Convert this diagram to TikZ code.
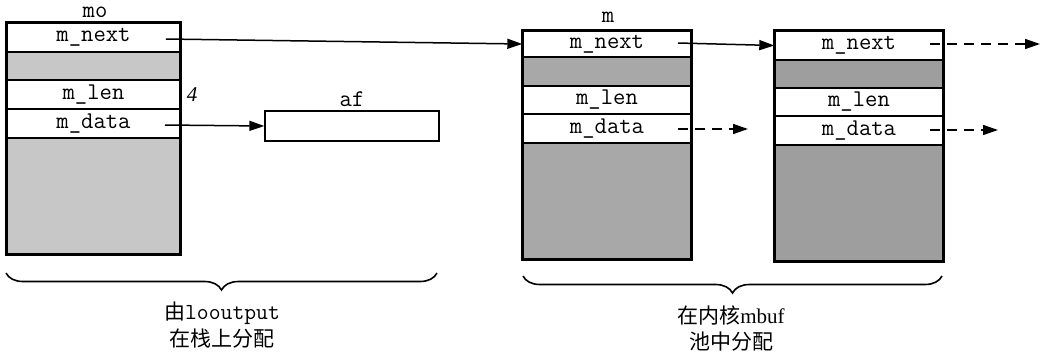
\documentclass[tikz,border=0pt]{standalone}
\usepackage{fontspec}
\setmainfont{Liberation Serif}
\newfontfamily\cjk{Noto Sans CJK SC}
\usetikzlibrary{arrows.meta,decorations.pathreplacing,calc}
\tikzset{
  cell/.style={draw, line width=1.4pt, inner sep=0pt, font=\ttfamily\fontsize{24}{26}\selectfont},
  mocell/.style={cell, minimum width=173pt},
  mcell/.style={cell, minimum width=168pt},
  shadeA/.style={fill=black!22},
  shadeB/.style={fill=black!34},
  shadeC/.style={fill=black!38},
  frame/.style={line width=2.2pt},
  arr/.style={line width=1.5pt, -{Triangle[length=15pt,width=10pt]}},
  darr/.style={arr, dash pattern=on 10pt off 7pt},
  lbl/.style={font=\ttfamily\fontsize{24}{26}\selectfont, inner sep=0pt},
  cjklbl/.style={font=\fontsize{21}{24}\selectfont, inner sep=0pt},
  brc/.style={line width=1.6pt, decorate, decoration={brace, mirror, amplitude=17pt}},
}
\begin{document}
\begin{tikzpicture}[x=1pt,y=-1pt]
\useasboundingbox (0,0) rectangle (1041,354);
% ---- mo (stack) ----
\node[lbl] (mo-lbl) at (95,12) {mo};
\node[mocell, minimum height=29pt] (mo-next) at (93.5,37.5) {m\_next};
\node[mocell, shadeA, minimum height=28pt] (mo-s1) at (93.5,66) {};
\node[mocell, minimum height=29pt] (mo-len) at (93.5,94.5) {m\_len};
\node[mocell, minimum height=29pt] (mo-data) at (93.5,123.5) {m\_data};
\node[mocell, shadeA, minimum height=116pt] (mo-rest) at (93.5,196) {};
\draw[frame] (mo-next.north west) rectangle (mo-rest.south east);
\node[font=\itshape\fontsize{21}{24}\selectfont, inner sep=0pt] (four) at (192,95) {4};
% ---- af ----
\node[lbl] (af-lbl) at (352,99) {af};
\node[draw, line width=1.4pt, minimum width=174pt, minimum height=30pt, inner sep=0pt] (af) at (352,126) {};
% ---- m (first kernel mbuf) ----
\node[lbl] (m-lbl) at (608,17) {m};
\node[mcell, minimum height=26pt] (m-next) at (607,44) {m\_next};
\node[mcell, shadeB, minimum height=29pt] (m-s1) at (607,71.5) {};
\node[mcell, minimum height=28pt] (m-len) at (607,100) {m\_len};
\node[mcell, minimum height=29pt] (m-data) at (607,128.5) {m\_data};
\node[mcell, shadeB, minimum height=116pt] (m-rest) at (607,201) {};
\draw[frame] (m-next.north west) rectangle (m-rest.south east);
% ---- second kernel mbuf ----
\node[mcell, minimum height=29pt] (n-next) at (859,45.5) {m\_next};
\node[mcell, shadeC, minimum height=28pt] (n-s1) at (859,74) {};
\node[mcell, minimum height=28pt] (n-len) at (859,102) {m\_len};
\node[mcell, minimum height=29pt] (n-data) at (859,130.5) {m\_data};
\node[mcell, shadeC, minimum height=116pt] (n-rest) at (859,203) {};
\draw[frame] (n-next.north west) rectangle (n-rest.south east);
% ---- connectors ----
\coordinate (s1) at (166,39);
\coordinate (s2) at (165,125);
\coordinate (s3) at (678,43);
\coordinate (s4) at (678,129);
\coordinate (e4) at (748,129);
\coordinate (s5) at (930,44);
\coordinate (e5) at (1040,44);
\coordinate (s6) at (930,130);
\coordinate (e6) at (998,130);
\draw[arr] (s1) -- (m-next.west);
\draw[arr] (s2) -- (af.west);
\draw[arr] (s3) -- (n-next.west);
\draw[darr] (s4) -- (e4);
\draw[darr] (s5) -- (e5);
\draw[darr] (s6) -- (e6);
% ---- braces ----
\draw[brc] (6,273) -- (437,273);
\draw[brc] (523,276) -- (942,276);
\node[cjklbl] (t1) at (222,313) {{\cjk 由}{\ttfamily\fontsize{23}{24}\selectfont looutput}};
\node[cjklbl] (t2) at (222,339) {\cjk 在栈上分配};
\node[cjklbl] (t3) at (731,315) {{\cjk 在内核}mbuf};
\node[cjklbl] (t4) at (731,342) {\cjk 池中分配};
\end{tikzpicture}
\end{document}
